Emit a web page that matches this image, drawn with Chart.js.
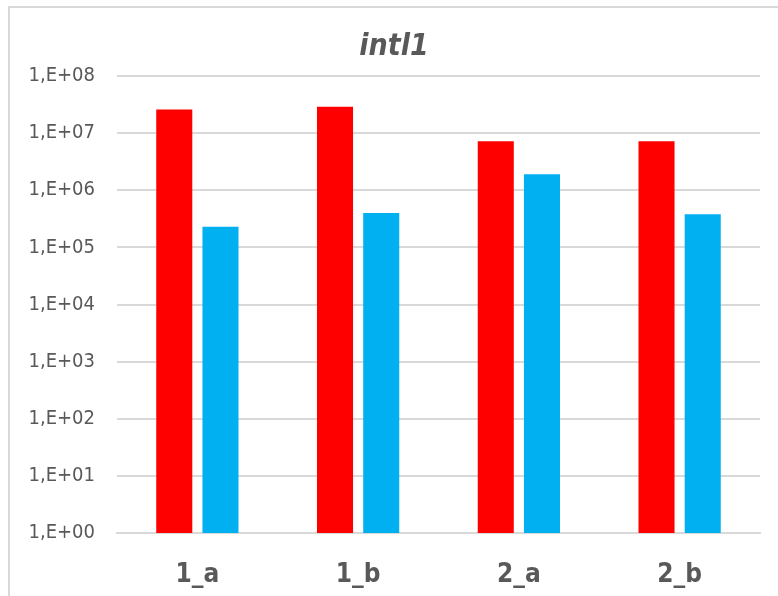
<!DOCTYPE html>
<html><head><meta charset="utf-8">
<script src="https://cdn.jsdelivr.net/npm/chart.js@4/dist/chart.umd.min.js"></script>
<style>html,body{margin:0;padding:0;background:#fff;}#wrap{position:relative;width:778px;height:596px;}</style>
</head><body><div id="wrap"><canvas id="c" width="778" height="596"></canvas></div>
<script>
const categories = ['1_a', '1_b', '2_a', '2_b'];
const seriesRed = [2.6e7, 2.9e7, 7.2e6, 7.2e6];
const seriesBlue = [2.3e5, 4.0e5, 1.9e6, 3.8e5];
const yTickValues = [1, 1e1, 1e2, 1e3, 1e4, 1e5, 1e6, 1e7, 1e8];
const titleText = 'intl1';

const FONT = "'Liberation Sans Narrow', 'DejaVu Sans Condensed', 'Liberation Sans', sans-serif";

const borderPlugin = {
  id: 'outerBorder',
  beforeDraw(chart) {
    const ctx = chart.ctx;
    ctx.save();
    ctx.fillStyle = '#fff';
    ctx.fillRect(0, 0, chart.width, chart.height);
    ctx.strokeStyle = '#d9d9d9';
    ctx.lineWidth = 2;
    ctx.beginPath();
    ctx.moveTo(9, chart.height);
    ctx.lineTo(9, 7);
    ctx.lineTo(chart.width, 7);
    ctx.stroke();
    ctx.restore();
  }
};

new Chart(document.getElementById('c'), {
  type: 'bar',
  data: {
    labels: categories,
    datasets: [
      { data: seriesRed, backgroundColor: '#FF0000', borderWidth: 0, yAxisID: 'y' },
      { data: seriesBlue, backgroundColor: '#00B0F0', borderWidth: 0, yAxisID: 'y' }
    ]
  },
  options: {
    responsive: false,
    animation: false,
    events: [],
    layout: { padding: { left: 10, right: 0, top: 14, bottom: 0 } },
    datasets: { bar: { categoryPercentage: 0.575, barPercentage: 0.78 } },
    plugins: {
      legend: { display: false },
      tooltip: { enabled: false },
      title: {
        display: true,
        text: titleText,
        color: '#595959',
        font: { family: FONT, size: 30, weight: 'bold', style: 'italic' },
        padding: { top: 15, bottom: 11 }
      }
    },
    scales: {
      x: {
        afterFit(scale) { scale.height = 63; },
        grid: { display: false, drawTicks: false },
        border: { display: true, color: '#d9d9d9', width: 2 },
        ticks: { color: '#595959', font: { family: FONT, size: 26, weight: 'bold' }, padding: 27 }
      },
      y: {
        type: 'logarithmic',
        position: 'left',
        min: 1, max: 1e8,
        afterBuildTicks(scale) { scale.ticks = yTickValues.map(v => ({ value: v })); },
        afterFit(scale) { scale.width = 107; },
        grid: { color: '#d9d9d9', lineWidth: 2, drawTicks: false },
        border: { display: false },
        ticks: {
          color: '#595959',
          font: { family: FONT, size: 20 },
          padding: 22,
          autoSkip: false,
          callback(v) { const e = Math.round(Math.log10(v)); return '1,E+' + String(e).padStart(2, '0'); }
        }
      },
      yRight: {
        type: 'linear',
        position: 'right',
        display: true,
        afterFit(scale) { scale.width = 18; },
        grid: { display: false, drawTicks: false },
        border: { display: false },
        ticks: { display: false }
      }
    }
  },
  plugins: [borderPlugin]
});
</script></body></html>
